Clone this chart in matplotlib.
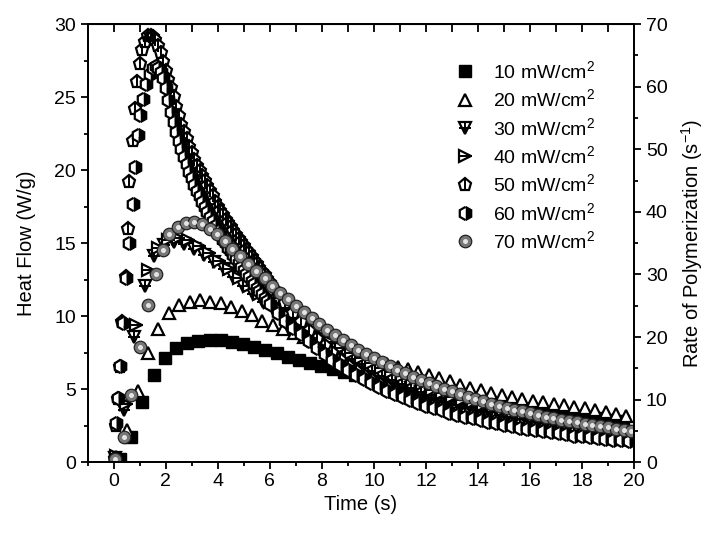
import matplotlib
matplotlib.use("Agg")
import matplotlib.pyplot as plt
from matplotlib.ticker import MultipleLocator

plt.rcParams['font.family'] = ['Liberation Sans', 'DejaVu Sans']
plt.rcParams['mathtext.fontset'] = 'custom'
plt.rcParams['mathtext.rm'] = 'Liberation Sans'
plt.rcParams['mathtext.it'] = 'Liberation Sans:italic'

# time (s) and heat flow (W/g) for each light intensity
t10 = [0.24, 0.67, 1.10, 1.53, 1.96, 2.39, 2.82, 3.25, 3.68, 4.11, 4.54, 4.97, 5.40, 5.83,
       6.26, 6.69, 7.12, 7.55, 7.98, 8.41, 8.84, 9.27, 9.70, 10.13, 10.56, 10.99, 11.42,
       11.85, 12.28, 12.71, 13.14, 13.57, 14.00, 14.43, 14.86, 15.29, 15.72, 16.15, 16.58,
       17.01, 17.44, 17.87, 18.30, 18.73, 19.16, 19.59]
hf10 = [0.2, 1.7, 4.1, 6.0, 7.15, 7.8, 8.15, 8.33, 8.37, 8.36, 8.26, 8.1, 7.92, 7.7,
        7.47, 7.22, 7.0, 6.8, 6.62, 6.4, 6.18, 5.96, 5.75, 5.55, 5.35, 5.16, 4.98,
        4.81, 4.65, 4.5, 4.36, 4.22, 4.09, 3.97, 3.85, 3.74, 3.63, 3.53, 3.43,
        3.34, 3.25, 3.16, 3.08, 3.0, 2.92, 2.85]

t20 = [0.09, 0.51, 0.91, 1.31, 1.71, 2.11, 2.51, 2.91, 3.31, 3.71, 4.11, 4.51, 4.91, 5.31,
       5.71, 6.11, 6.51, 6.91, 7.31, 7.71, 8.11, 8.51, 8.91, 9.31, 9.71, 10.11, 10.51,
       10.91, 11.31, 11.71, 12.11, 12.51, 12.91, 13.31, 13.71, 14.11, 14.51, 14.91, 15.31,
       15.71, 16.11, 16.51, 16.91, 17.31, 17.71, 18.11, 18.51, 18.91, 19.31, 19.71]
hf20 = [0.36, 2.2, 4.85, 7.45, 9.15, 10.25, 10.75, 11.0, 11.1, 11.0, 10.9, 10.65, 10.35, 10.05,
        9.7, 9.4, 9.15, 8.85, 8.55, 8.3, 8.05, 7.8, 7.55, 7.33, 7.12, 6.92, 6.72,
        6.53, 6.35, 6.18, 6.0, 5.8, 5.55, 5.3, 5.1, 4.92, 4.75, 4.6, 4.47,
        4.35, 4.22, 4.1, 4.0, 3.9, 3.8, 3.7, 3.58, 3.45, 3.33, 3.2]

t30 = [0.04, 0.41, 0.76, 1.18, 1.56, 1.94, 2.32, 2.70, 3.08, 3.46, 3.84, 4.22, 4.60, 4.98,
       5.36, 5.74, 6.12, 6.50, 6.88, 7.26, 7.64, 8.02, 8.40, 8.78, 9.16, 9.54, 9.92,
       10.30, 10.68, 11.06, 11.44, 11.82, 12.20, 12.58, 12.96, 13.34, 13.72, 14.10, 14.48,
       14.86, 15.24, 15.62, 16.00, 16.38, 16.76, 17.14, 17.52, 17.90, 18.28, 18.66, 19.04,
       19.42, 19.80]
hf30 = [0.3, 3.6, 8.6, 12.1, 14.1, 14.85, 15.05, 14.95, 14.6, 14.2, 13.7, 13.2, 12.65, 12.1,
        11.55, 11.0, 10.5, 10.0, 9.5, 9.05, 8.6, 8.2, 7.8, 7.42, 7.06, 6.72, 6.25,
        5.93, 5.63, 5.35, 5.08, 4.83, 4.6, 4.38, 4.17, 3.97, 3.78, 3.6, 3.43,
        3.27, 3.12, 2.98, 2.85, 2.73, 2.61, 2.5, 2.39, 2.29, 2.19, 2.1, 2.01,
        1.93, 1.85]

t40 = [0.10, 0.45, 0.86, 1.31, 1.70, 2.09, 2.48, 2.87, 3.26, 3.65, 4.04, 4.43, 4.82, 5.21,
       5.60, 5.99, 6.38, 6.77, 7.16, 7.55, 7.94, 8.33, 8.72, 9.11, 9.50, 9.89, 10.28,
       10.67, 11.06, 11.45, 11.84, 12.23, 12.62, 13.01, 13.40, 13.79, 14.18, 14.57, 14.96,
       15.35, 15.74, 16.13, 16.52, 16.91, 17.30, 17.69, 18.08, 18.47, 18.86, 19.25, 19.64]
hf40 = [0.4, 4.0, 9.4, 13.15, 14.7, 15.2, 15.35, 15.2, 14.8, 14.3, 13.75, 13.2, 12.6, 12.05,
        11.5, 10.98, 10.48, 10.0, 9.52, 9.07, 8.64, 8.23, 7.84, 7.47, 7.12, 6.79, 6.47,
        6.17, 5.88, 5.6, 5.34, 4.95, 4.72, 4.5, 4.29, 4.1, 3.92, 3.75, 3.58,
        3.42, 3.27, 3.13, 3.0, 2.87, 2.75, 2.63, 2.52, 2.41, 2.31, 2.21, 2.12]

t50 = [0.05, 0.10, 0.17, 0.24, 0.33, 0.45, 0.54, 0.60, 0.73, 0.80, 0.89, 0.99, 1.07, 1.18,
       1.30, 1.42, 1.50, 1.60, 1.70, 1.80, 1.90, 2.00, 2.10, 2.20, 2.30, 2.40, 2.50, 2.60,
       2.70, 2.80, 2.90, 3.00, 3.10, 3.20, 3.30, 3.40, 3.50, 3.60, 3.70, 3.80, 3.90, 4.00,
       4.10, 4.20, 4.30, 4.40, 4.50, 4.60, 4.70, 4.80, 4.90, 5.00, 5.10, 5.20, 5.30, 5.40,
       5.50, 5.60, 5.70, 5.80, 5.90, 6.00, 6.30, 6.60, 6.90, 7.20, 7.50, 7.80,
       8.10, 8.40, 8.70, 9.00, 9.30, 9.60, 9.90, 10.20, 10.50, 10.80, 11.10, 11.40, 11.70,
       12.00, 12.30, 12.60, 12.90, 13.20, 13.50, 13.80, 14.10, 14.40, 14.70, 15.00, 15.30,
       15.60, 15.90, 16.20, 16.50, 16.80, 17.10, 17.40, 17.70, 18.00, 18.30, 18.60, 18.90,
       19.20, 19.50, 19.80]
hf50 = [0.2, 2.5, 4.3, 6.5, 9.6, 12.7, 16.0, 19.2, 22.0, 24.2, 26.0, 27.3, 28.2, 28.8,
        29.15, 29.2, 29.1, 28.9, 28.5, 28.0, 27.4, 26.8, 26.2, 25.6, 25.0, 24.3, 23.7, 23.1,
        22.6, 22.1, 21.6, 21.15, 20.7, 20.3, 19.95, 19.6, 19.25, 18.9, 18.55, 18.2, 17.85, 17.5,
        17.2, 16.9, 16.6, 16.35, 16.1, 15.85, 15.55, 15.3, 15.05, 14.8, 14.55, 14.3, 14.05, 13.8,
        13.55, 13.3, 13.05, 12.8, 12.55, 12.3, 11.6, 10.9, 10.25, 9.6, 9.0, 8.45,
        7.95, 7.45, 7.0, 6.6, 6.25, 5.92, 5.62, 5.34, 5.08, 4.84, 4.62, 4.41, 4.21,
        4.02, 3.85, 3.69, 3.54, 3.40, 3.27, 3.15, 3.03, 2.92, 2.81, 2.71, 2.61,
        2.52, 2.43, 2.35, 2.27, 2.19, 2.12, 2.05, 1.98, 1.92, 1.86, 1.8, 1.75,
        1.7, 1.65, 1.6]

t60 = [0.03, 0.09, 0.15, 0.22, 0.35, 0.48, 0.60, 0.73, 0.83, 0.92, 0.99, 1.12, 1.25, 1.38,
       1.51, 1.64, 1.70, 1.80, 1.90, 2.00, 2.10, 2.20, 2.30, 2.40, 2.50, 2.60, 2.70, 2.80,
       2.90, 3.00, 3.10, 3.20, 3.30, 3.40, 3.50, 3.60, 3.70, 3.80, 3.90, 4.00, 4.10, 4.20,
       4.30, 4.40, 4.50, 4.60, 4.70, 4.80, 4.90, 5.00, 5.10, 5.20, 5.30, 5.40, 5.50, 5.60,
       5.70, 5.80, 5.90, 6.00, 6.30, 6.60, 6.90, 7.20, 7.50, 7.80,
       8.10, 8.40, 8.70, 9.00, 9.30, 9.60, 9.90, 10.20, 10.50, 10.80, 11.10, 11.40, 11.70,
       12.00, 12.30, 12.60, 12.90, 13.20, 13.50, 13.80, 14.10, 14.40, 14.70, 15.00, 15.30,
       15.60, 15.90, 16.20, 16.50, 16.80, 17.10, 17.40, 17.70, 18.00, 18.30, 18.60, 18.90,
       19.20, 19.50, 19.80]
hf60 = [0.3, 2.7, 4.4, 6.6, 9.5, 12.6, 15.0, 17.7, 20.2, 22.4, 23.8, 24.9, 25.9, 26.6,
        27.0, 27.1, 27.0, 26.7, 26.3, 25.6, 24.8, 24.0, 23.3, 22.6, 22.0, 21.45, 20.9, 20.4,
        19.9, 19.45, 19.0, 18.6, 18.2, 17.85, 17.5, 17.15, 16.8, 16.5, 16.2, 15.85, 15.55, 15.25,
        15.0, 14.7, 14.45, 14.2, 13.9, 13.65, 13.4, 13.15, 12.9, 12.65, 12.4, 12.2, 11.95, 11.7,
        11.5, 11.25, 11.05, 10.85, 10.25, 9.7, 9.2, 8.75, 8.3, 7.85,
        7.4, 7.0, 6.65, 6.3, 5.98, 5.68, 5.4, 5.14, 4.9, 4.67, 4.45, 4.25, 4.06,
        3.88, 3.71, 3.55, 3.4, 3.26, 3.13, 3.0, 2.88, 2.77, 2.66, 2.56, 2.46,
        2.37, 2.28, 2.2, 2.12, 2.04, 1.97, 1.9, 1.83, 1.77, 1.71, 1.65, 1.6,
        1.55, 1.5, 1.45]

t70 = [0.05, 0.41, 0.67, 0.99, 1.31, 1.63, 1.88, 2.14, 2.46, 2.78, 3.10, 3.40, 3.68, 3.96,
       4.26, 4.55, 4.85, 5.15, 5.48, 5.80, 6.10, 6.40, 6.70, 7.00, 7.30, 7.60, 7.90, 8.20,
       8.50, 8.80, 9.10, 9.40, 9.70, 10.00, 10.30, 10.60, 10.90, 11.20, 11.50, 11.80, 12.10,
       12.40, 12.70, 13.00, 13.30, 13.60, 13.90, 14.20, 14.50, 14.80, 15.10, 15.40, 15.70,
       16.00, 16.30, 16.60, 16.90, 17.20, 17.50, 17.80, 18.10, 18.40, 18.70, 19.00, 19.30,
       19.60, 19.90]
hf70 = [0.2, 1.7, 4.6, 7.9, 10.75, 12.9, 14.5, 15.6, 16.1, 16.4, 16.45, 16.3, 16.0, 15.65,
        15.15, 14.6, 14.1, 13.6, 13.1, 12.6, 12.1, 11.6, 11.15, 10.7, 10.3, 9.85, 9.45, 9.05,
        8.7, 8.35, 8.0, 7.7, 7.4, 7.12, 6.85, 6.58, 6.33, 6.08, 5.85, 5.63, 5.42,
        5.22, 5.03, 4.85, 4.67, 4.5, 4.34, 4.18, 4.02, 3.88, 3.74, 3.61, 3.48,
        3.36, 3.24, 3.13, 3.02, 2.92, 2.82, 2.73, 2.64, 2.55, 2.47, 2.39, 2.31,
        2.24, 2.17]

labels = ['10 mW/cm$^2$', '20 mW/cm$^2$', '30 mW/cm$^2$', '40 mW/cm$^2$',
          '50 mW/cm$^2$', '60 mW/cm$^2$', '70 mW/cm$^2$']

fig = plt.figure(figsize=(7.14, 5.35), dpi=100)
ax = fig.add_axes([0.123, 0.136, 0.765, 0.819])

ms = 9
mw = 1.6
handles = []

h, = ax.plot(t10, hf10, 's', ms=8, mfc='black', mec='black', ls='none')
handles.append(h)

h, = ax.plot(t20, hf20, '^', ms=ms, mfc='white', mec='black', mew=mw, ls='none')
handles.append(h)

a, = ax.plot(t30, hf30, 'v', ms=ms, mfc='white', mec='black', mew=mw, ls='none')
b, = ax.plot(t30, hf30, '+', ms=ms, mec='black', mew=1.4, ls='none')
handles.append((a, b))

a, = ax.plot(t40, hf40, '>', ms=ms, mfc='white', mec='black', mew=mw, ls='none')
b, = ax.plot(t40, hf40, '_', ms=ms + 1, mec='black', mew=1.4, ls='none')
handles.append((a, b))

a, = ax.plot(t50, hf50, 'p', ms=ms + 0.5, mfc='white', mec='black', mew=mw, ls='none')
b, = ax.plot(t50, hf50, '|', ms=ms, mec='black', mew=1.4, ls='none')
handles.append((a, b))

h, = ax.plot(t60, hf60, 'h', ms=ms + 0.5, fillstyle='right', mfc='black',
             markerfacecoloralt='white', mec='black', mew=mw, ls='none')
handles.append(h)

# shaded ball: grey body with a light centre
a, = ax.plot(t70, hf70, 'o', ms=ms, mfc='#777777', mec='#222222', mew=0.9, ls='none')
b, = ax.plot(t70, hf70, 'o', ms=3.6, mfc='#e4e4e4', mec='none', ls='none')
handles.append((a, b))

ax.set_xlim(-1, 20)
ax.set_ylim(0, 30)
ax.xaxis.set_major_locator(MultipleLocator(2))
ax.xaxis.set_minor_locator(MultipleLocator(1))
ax.yaxis.set_major_locator(MultipleLocator(5))
ax.yaxis.set_minor_locator(MultipleLocator(2.5))

for s in ax.spines.values():
    s.set_linewidth(1.3)

ax.tick_params(axis='x', which='both', direction='out', labelsize=14, width=1.3, pad=3)
ax.tick_params(axis='x', which='major', length=5)
ax.tick_params(axis='x', which='minor', length=3)
ax.tick_params(axis='y', which='both', direction='out', labelsize=14, width=1.3)
ax.tick_params(axis='y', which='major', length=5)
ax.tick_params(axis='y', which='minor', length=3)

ax.set_xlabel('Time (s)', fontsize=14.5, labelpad=3)
ax.set_ylabel('Heat Flow (W/g)', fontsize=14.5, labelpad=13)

ax2 = ax.twinx()
ax2.set_ylim(0, 70)
ax2.yaxis.set_major_locator(MultipleLocator(10))
ax2.yaxis.set_minor_locator(MultipleLocator(5))
ax2.tick_params(axis='y', which='both', direction='out', labelsize=14, width=1.3)
ax2.tick_params(axis='y', which='major', length=5)
ax2.tick_params(axis='y', which='minor', length=3)
ax2.set_ylabel('Rate of Polymerization (s$^{-1}$)', fontsize=14.5, labelpad=8)
for s in ax2.spines.values():
    s.set_linewidth(1.3)

# top ticks point inward
secx = ax.secondary_xaxis('top')
secx.xaxis.set_major_locator(MultipleLocator(2))
secx.xaxis.set_minor_locator(MultipleLocator(1))
secx.tick_params(which='both', direction='in', labeltop=False, width=1.3)
secx.tick_params(which='major', length=6)
secx.tick_params(which='minor', length=6)

ax.legend(handles, labels, loc='upper left', bbox_to_anchor=(0.61, 0.92),
          bbox_transform=fig.transFigure, frameon=False, fontsize=14,
          numpoints=1, handlelength=1.2, handletextpad=0.85, labelspacing=0.33,
          borderpad=0.4)

fig.savefig('out.png', dpi=100)
